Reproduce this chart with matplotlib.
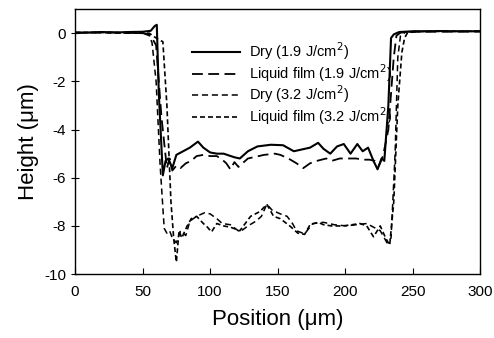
import matplotlib
matplotlib.use('Agg')
import matplotlib.pyplot as plt

plt.rcParams['font.family'] = ['Liberation Sans', 'DejaVu Sans']
plt.rcParams['axes.unicode_minus'] = False

# Dry (1.9 J/cm2)
dry19_x = [0, 10, 20, 30, 40, 50, 56, 59, 60.5, 62, 65, 67, 69, 72, 75, 80, 85, 91, 95, 100,
           105, 110, 118, 122, 128, 135, 145, 154, 162, 170, 174, 180, 184, 189, 194, 199, 204,
           209, 213, 217, 221, 224, 227, 229, 232, 234, 236, 240, 250, 260, 270, 280, 290, 300]
dry19_y = [0.02, 0.03, 0.05, 0.03, 0.05, 0.06, 0.1, 0.3, 0.35, -2.5, -5.9, -5.3, -5.2, -5.6, -5.05,
           -4.9, -4.75, -4.5, -4.75, -4.95, -5.0, -5.0, -5.15, -5.2, -4.9, -4.7, -4.63, -4.65, -4.9,
           -4.8, -4.75, -4.55, -4.8, -5.0, -4.7, -4.6, -5.0, -4.6, -4.9, -4.75, -5.3, -5.65, -5.2,
           -5.3, -3.0, -0.2, -0.05, 0.05, 0.08, 0.08, 0.09, 0.08, 0.08, 0.08]

# Liquid film (1.9 J/cm2)
liq19_x = [0, 10, 20, 30, 40, 50, 55, 58, 60, 64, 68, 70, 72, 75, 78, 82, 86, 90, 95, 100, 105,
           110, 112, 115, 118, 121, 124, 128, 132, 140, 148, 152, 158, 164, 169, 174, 179, 186,
           190, 196, 201, 208, 214, 218, 222, 225, 228, 232, 236, 238, 241, 245, 250, 300]
liq19_y = [0.02, 0.02, 0.04, 0.03, 0.02, 0.0, -0.05, -0.3, -0.5, -3.5, -5.6, -5.2, -5.7, -5.5,
           -5.6, -5.4, -5.3, -5.1, -5.05, -5.1, -5.1, -5.3, -5.4, -5.65, -5.35, -5.55, -5.4, -5.2,
           -5.15, -5.05, -5.0, -5.05, -5.2, -5.4, -5.6, -5.4, -5.3, -5.2, -5.3, -5.2, -5.2, -5.2,
           -5.25, -5.25, -5.3, -5.5, -5.1, -4.0, -1.0, -0.1, 0.02, 0.05, 0.06, 0.07]

# Dry (3.2 J/cm2)
dry32_x = [0, 20, 40, 50, 55, 57, 60, 63, 66, 68, 70, 72, 75, 78, 82, 85, 90, 96, 100, 105, 109,
           115, 122, 128, 134, 138, 142, 146, 152, 157, 161, 164, 170, 176, 184, 192, 201, 208,
           216, 221, 226, 231, 234, 237, 239, 241, 245, 250, 300]
dry32_y = [0.03, 0.02, 0.0, 0.0, -0.1, -0.4, -2.0, -5.5, -8.1, -8.3, -8.2, -8.5, -8.7, -8.2,
           -8.4, -7.8, -7.6, -7.45, -7.5, -7.7, -7.9, -7.95, -8.25, -8.0, -7.8, -7.6, -7.1, -7.35,
           -7.5, -7.6, -7.9, -8.2, -8.33, -7.9, -7.85, -7.95, -8.0, -7.95, -7.9, -8.05, -8.2, -8.7,
           -8.5, -5.0, -1.0, -0.1, 0.05, 0.08, 0.08]

# Liquid film (3.2 J/cm2)
liq32_x = [0, 20, 40, 55, 60, 63, 65, 68, 71, 73, 75, 77, 79, 83, 86, 90, 95, 98, 101, 105, 110,
           115, 122, 130, 137, 142, 147, 152, 159, 165, 170, 174, 180, 184, 190, 198, 205, 211,
           216, 221, 226, 230, 233, 236, 239, 242, 244, 246, 250, 260, 300]
liq32_y = [0.03, 0.03, 0.02, 0.0, -0.2, -0.3, -0.35, -3.0, -7.0, -8.5, -9.5, -8.2, -8.5, -8.0,
           -7.7, -7.6, -7.9, -8.05, -8.25, -7.9, -8.0, -8.05, -8.2, -7.6, -7.4, -7.1, -7.6, -7.7,
           -8.0, -8.3, -8.35, -7.95, -7.85, -7.95, -8.0, -8.0, -7.95, -7.9, -8.0, -8.45, -8.0,
           -8.5, -8.8, -7.0, -3.0, -0.8, -0.2, 0.0, 0.05, 0.08, 0.08]

labels = ['Dry (1.9 J/cm$^2$)', 'Liquid film (1.9 J/cm$^2$)',
          'Dry (3.2 J/cm$^2$)', 'Liquid film (3.2 J/cm$^2$)']

fig = plt.figure(figsize=(4.94, 3.38), dpi=100)
ax = fig.add_axes([0.152, 0.189, 0.82, 0.784])

ax.plot(dry19_x, dry19_y, color='black', lw=1.5, label=labels[0])
ax.plot(liq19_x, liq19_y, color='black', lw=1.3, dashes=(6, 3), label=labels[1])
ax.plot(dry32_x, dry32_y, color='black', lw=1.1, dashes=(4, 2.5), label=labels[2])
ax.plot(liq32_x, liq32_y, color='black', lw=1.2, dashes=(3, 1.8), label=labels[3])

ax.set_xlim(0, 300)
ax.set_ylim(-10, 1)
ax.set_xticks(range(0, 301, 50))
ax.set_yticks(range(-10, 1, 2))
ax.tick_params(axis='x', direction='in', labelsize=11, length=4, pad=8)
ax.tick_params(axis='y', direction='inout', labelsize=11, length=6)
for s in ax.spines.values():
    s.set_linewidth(1.0)

ax.set_xlabel('Position (\u03bcm)', fontsize=16, labelpad=7)
ax.set_ylabel('Height (\u03bcm)', fontsize=16)

ax.legend(loc='upper left', bbox_to_anchor=(0.27, 0.91), frameon=False, fontsize=10.5,
          handlelength=3.3, handletextpad=0.6, labelspacing=0.0, borderpad=0)

fig.savefig('out.png', dpi=100)
